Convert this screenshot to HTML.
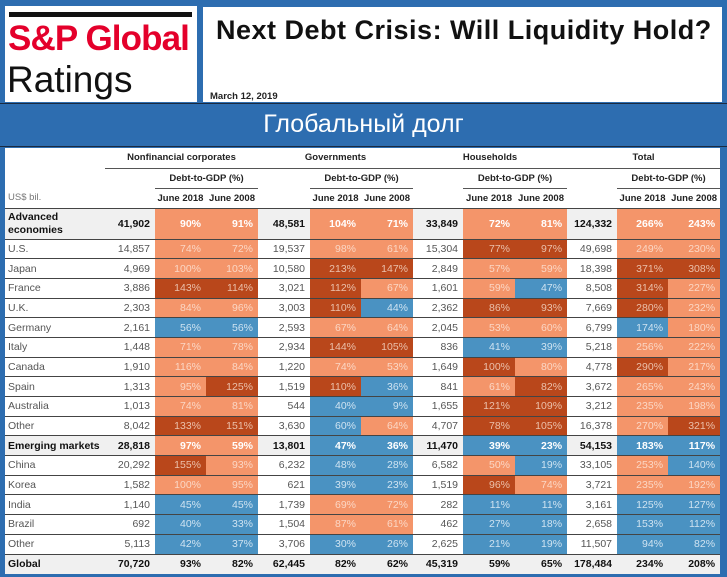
<!DOCTYPE html>
<html><head><meta charset="utf-8"><style>
*{margin:0;padding:0;box-sizing:border-box}
body{width:727px;height:577px;background:#2d6db0;position:relative;overflow:hidden;font-family:"Liberation Sans",sans-serif}
#logo{position:absolute;left:5px;top:6px;width:192px;height:96px;background:#fff}
#bar{position:absolute;left:4px;top:6px;width:183px;height:5px;background:#111}
#sp{position:absolute;left:3px;top:13px;font-size:35px;font-weight:bold;color:#e4002b;letter-spacing:-0.9px;white-space:nowrap}
#rt{position:absolute;left:2px;top:53px;font-size:37px;color:#111;white-space:nowrap}
#tbox{position:absolute;left:203px;top:7px;width:519px;height:95px;background:#fff}
#tt{position:absolute;left:13px;top:8px;font-size:27px;font-weight:bold;color:#111;white-space:nowrap;letter-spacing:0.5px}
#dt{position:absolute;left:7px;top:84px;font-size:9.5px;font-weight:bold;color:#222}
#band{position:absolute;left:0;top:103px;width:727px;height:44px;border-top:1px solid #1a2a40;border-bottom:1px solid #1a2a40}
#bt{position:absolute;left:0;width:727px;top:110px;text-align:center;color:#fff;font-size:25px}
#tw{position:absolute;left:5px;top:148px;width:715px;height:425px;background:#fff}
table{position:absolute;left:0;top:0;border-collapse:collapse;table-layout:fixed;width:715px;font-size:10.5px;color:#555}
td{height:19.7px;text-align:right;padding:0 5px;border-bottom:1px solid #444;white-space:nowrap}
td.l{text-align:left;padding-left:3px}
.L{background:#f4956a;color:#fbd7c5}
.D{background:#b9471b;color:#ebc0ab}
.B{background:#4a92c2;color:#cfe3f1}
tr.b td{font-weight:bold;color:#111;background:#f0f0f0}
tr.b td.L,tr.b td.D,tr.b td.B{color:#fff}
tr.b td.L{background:#f4956a}tr.b td.B{background:#4a92c2}
.h td{border-bottom:none;font-weight:bold;color:#222;text-align:center;height:20px;font-size:9.5px;padding:0 2px}
.h td.u{border-bottom:1px solid #555}
.h3 td{border-bottom:1px solid #444}
</style></head><body>
<div id="logo"><div id="bar"></div><div id="sp">S&amp;P Global</div><div id="rt">Ratings</div></div>
<div id="tbox"><div id="tt">Next Debt Crisis: Will Liquidity Hold?</div><div id="dt">March 12, 2019</div></div>
<div id="band"></div><div id="bt">Глобальный долг</div>
<div id="tw"><table>
<colgroup><col style="width:100px"><col style="width:50px"><col style="width:51px"><col style="width:52px"><col style="width:52px"><col style="width:51px"><col style="width:52px"><col style="width:50px"><col style="width:52px"><col style="width:52px"><col style="width:50px"><col style="width:51px"><col style="width:52px"></colgroup>
<tr class="h"><td></td><td colspan="3" class="u">Nonfinancial corporates</td><td colspan="3" class="u">Governments</td><td colspan="3" class="u">Households</td><td colspan="3" class="u">Total</td></tr>
<tr class="h"><td></td><td></td><td colspan="2" class="u">Debt-to-GDP (%)</td><td></td><td colspan="2" class="u">Debt-to-GDP (%)</td><td></td><td colspan="2" class="u">Debt-to-GDP (%)</td><td></td><td colspan="2" class="u">Debt-to-GDP (%)</td></tr>
<tr class="h h3"><td style="text-align:left;font-weight:normal;color:#777;padding-left:3px">US$ bil.</td><td></td><td>June 2018</td><td>June 2008</td><td></td><td>June 2018</td><td>June 2008</td><td></td><td>June 2018</td><td>June 2008</td><td></td><td>June 2018</td><td>June 2008</td></tr>
<tr class="b"><td class="l" style="height:31px;line-height:13px;white-space:normal">Advanced economies</td><td>41,902</td><td class="L">90%</td><td class="L">91%</td><td>48,581</td><td class="L">104%</td><td class="L">71%</td><td>33,849</td><td class="L">72%</td><td class="L">81%</td><td>124,332</td><td class="L">266%</td><td class="L">243%</td></tr>
<tr><td class="l">U.S.</td><td>14,857</td><td class="L">74%</td><td class="L">72%</td><td>19,537</td><td class="L">98%</td><td class="L">61%</td><td>15,304</td><td class="D">77%</td><td class="D">97%</td><td>49,698</td><td class="L">249%</td><td class="L">230%</td></tr>
<tr><td class="l">Japan</td><td>4,969</td><td class="L">100%</td><td class="L">103%</td><td>10,580</td><td class="D">213%</td><td class="D">147%</td><td>2,849</td><td class="L">57%</td><td class="L">59%</td><td>18,398</td><td class="D">371%</td><td class="D">308%</td></tr>
<tr><td class="l">France</td><td>3,886</td><td class="D">143%</td><td class="D">114%</td><td>3,021</td><td class="D">112%</td><td class="L">67%</td><td>1,601</td><td class="L">59%</td><td class="B">47%</td><td>8,508</td><td class="D">314%</td><td class="L">227%</td></tr>
<tr><td class="l">U.K.</td><td>2,303</td><td class="L">84%</td><td class="L">96%</td><td>3,003</td><td class="D">110%</td><td class="B">44%</td><td>2,362</td><td class="D">86%</td><td class="D">93%</td><td>7,669</td><td class="D">280%</td><td class="L">232%</td></tr>
<tr><td class="l">Germany</td><td>2,161</td><td class="B">56%</td><td class="B">56%</td><td>2,593</td><td class="L">67%</td><td class="L">64%</td><td>2,045</td><td class="L">53%</td><td class="L">60%</td><td>6,799</td><td class="B">174%</td><td class="L">180%</td></tr>
<tr><td class="l">Italy</td><td>1,448</td><td class="L">71%</td><td class="L">78%</td><td>2,934</td><td class="D">144%</td><td class="D">105%</td><td>836</td><td class="B">41%</td><td class="B">39%</td><td>5,218</td><td class="L">256%</td><td class="L">222%</td></tr>
<tr><td class="l">Canada</td><td>1,910</td><td class="L">116%</td><td class="L">84%</td><td>1,220</td><td class="L">74%</td><td class="L">53%</td><td>1,649</td><td class="D">100%</td><td class="L">80%</td><td>4,778</td><td class="D">290%</td><td class="L">217%</td></tr>
<tr><td class="l">Spain</td><td>1,313</td><td class="L">95%</td><td class="D">125%</td><td>1,519</td><td class="D">110%</td><td class="B">36%</td><td>841</td><td class="L">61%</td><td class="D">82%</td><td>3,672</td><td class="L">265%</td><td class="L">243%</td></tr>
<tr><td class="l">Australia</td><td>1,013</td><td class="L">74%</td><td class="L">81%</td><td>544</td><td class="B">40%</td><td class="B">9%</td><td>1,655</td><td class="D">121%</td><td class="D">109%</td><td>3,212</td><td class="L">235%</td><td class="L">198%</td></tr>
<tr><td class="l">Other</td><td>8,042</td><td class="D">133%</td><td class="D">151%</td><td>3,630</td><td class="B">60%</td><td class="L">64%</td><td>4,707</td><td class="D">78%</td><td class="D">105%</td><td>16,378</td><td class="L">270%</td><td class="D">321%</td></tr>
<tr class="b"><td class="l">Emerging markets</td><td>28,818</td><td class="L">97%</td><td class="L">59%</td><td>13,801</td><td class="B">47%</td><td class="B">36%</td><td>11,470</td><td class="B">39%</td><td class="B">23%</td><td>54,153</td><td class="B">183%</td><td class="B">117%</td></tr>
<tr><td class="l">China</td><td>20,292</td><td class="D">155%</td><td class="L">93%</td><td>6,232</td><td class="B">48%</td><td class="B">28%</td><td>6,582</td><td class="L">50%</td><td class="B">19%</td><td>33,105</td><td class="L">253%</td><td class="B">140%</td></tr>
<tr><td class="l">Korea</td><td>1,582</td><td class="L">100%</td><td class="L">95%</td><td>621</td><td class="B">39%</td><td class="B">23%</td><td>1,519</td><td class="D">96%</td><td class="L">74%</td><td>3,721</td><td class="L">235%</td><td class="L">192%</td></tr>
<tr><td class="l">India</td><td>1,140</td><td class="B">45%</td><td class="B">45%</td><td>1,739</td><td class="L">69%</td><td class="L">72%</td><td>282</td><td class="B">11%</td><td class="B">11%</td><td>3,161</td><td class="B">125%</td><td class="B">127%</td></tr>
<tr><td class="l">Brazil</td><td>692</td><td class="B">40%</td><td class="B">33%</td><td>1,504</td><td class="L">87%</td><td class="L">61%</td><td>462</td><td class="B">27%</td><td class="B">18%</td><td>2,658</td><td class="B">153%</td><td class="B">112%</td></tr>
<tr><td class="l">Other</td><td>5,113</td><td class="B">42%</td><td class="B">37%</td><td>3,706</td><td class="B">30%</td><td class="B">26%</td><td>2,625</td><td class="B">21%</td><td class="B">19%</td><td>11,507</td><td class="B">94%</td><td class="B">82%</td></tr>
<tr class="b"><td class="l" style="border-bottom:none">Global</td><td style="border-bottom:none">70,720</td><td style="border-bottom:none">93%</td><td style="border-bottom:none">82%</td><td style="border-bottom:none">62,445</td><td style="border-bottom:none">82%</td><td style="border-bottom:none">62%</td><td style="border-bottom:none">45,319</td><td style="border-bottom:none">59%</td><td style="border-bottom:none">65%</td><td style="border-bottom:none">178,484</td><td style="border-bottom:none">234%</td><td style="border-bottom:none">208%</td></tr>
</table></div>
</body></html>
